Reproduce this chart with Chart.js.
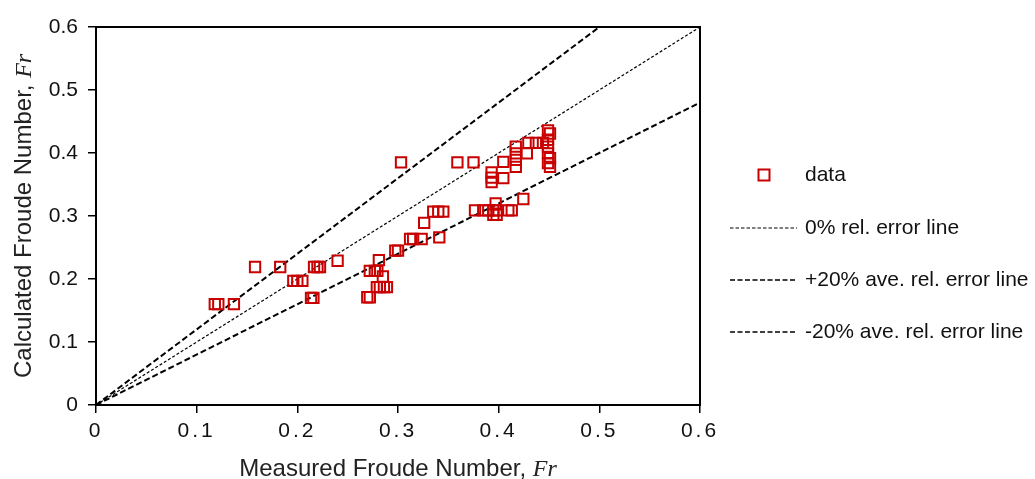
<!DOCTYPE html>
<html>
<head>
<meta charset="utf-8">
<script src="https://cdn.jsdelivr.net/npm/chart.js@4"></script>
<style>
  html, body { margin: 0; padding: 0; background: #fff; }
  #wrap { width: 1035px; height: 479px; }
</style>
</head>
<body>
<div id="wrap"><canvas id="c"></canvas></div>
<script>
// measured vs calculated Froude number
const measuredFr = [
  0.118, 0.1215, 0.137,
  0.158, 0.183,
  0.196, 0.200, 0.205,
  0.2136, 0.216,
  0.2166, 0.220, 0.2225,
  0.240,
  0.2695, 0.272,
  0.272, 0.277, 0.2795,
  0.281,
  0.285,
  0.279, 0.282, 0.286, 0.289,
  0.2973, 0.300,
  0.303,
  0.312, 0.315, 0.3235,
  0.326,
  0.335, 0.340, 0.345,
  0.341,
  0.359, 0.375,
  0.3765, 0.3847, 0.3897, 0.3947, 0.398, 0.4096, 0.413,
  0.397,
  0.3947, 0.398,
  0.4245,
  0.393, 0.393, 0.393,
  0.4046, 0.4046,
  0.417, 0.417, 0.417, 0.417,
  0.428,
  0.4295, 0.437, 0.444,
  0.449, 0.451, 0.449, 0.449, 0.449, 0.451, 0.449, 0.451
];
const calculatedFr = [
  0.160, 0.160, 0.160,
  0.219, 0.219,
  0.197, 0.197, 0.197,
  0.170, 0.170,
  0.219, 0.219, 0.219,
  0.229,
  0.171, 0.171,
  0.213, 0.213, 0.213,
  0.230,
  0.204,
  0.187, 0.187, 0.187, 0.187,
  0.245, 0.245,
  0.385,
  0.2635, 0.2635, 0.2635,
  0.289,
  0.307, 0.307, 0.307,
  0.266,
  0.385, 0.385,
  0.309, 0.309, 0.309, 0.309, 0.309, 0.309, 0.309,
  0.320,
  0.302, 0.302,
  0.327,
  0.369, 0.361, 0.354,
  0.386, 0.360,
  0.410, 0.3995, 0.389, 0.378,
  0.3995,
  0.416, 0.416, 0.416,
  0.436, 0.431, 0.421, 0.410, 0.3995, 0.392, 0.384, 0.378
];

// reference lines: y = x, y = 1.2x, y = 0.8x
const lineX = [0, 0.6];
const zeroErrY = [0, 0.6];
const plusErrY = [0, 0.72];
const minusErrY = [0, 0.48];

const xTickLabels = ['0', '0.1', '0.2', '0.3', '0.4', '0.5', '0.6'];
const yTickLabels = ['0', '0.1', '0.2', '0.3', '0.4', '0.5', '0.6'];

const seriesLabels = ['data', '0% rel. error line', '+20% ave. rel. error line', '-20% ave. rel. error line'];

const SANS = '"Liberation Sans", Arial, Helvetica, sans-serif';
const SERIF = '"Liberation Serif", "Times New Roman", serif';
const RED = '#c80000';

function toPoints(xs, ys) {
  return xs.map((x, i) => ({ x: x, y: ys[i] }));
}

function drawRich(ctx, parts, x, y, align) {
  let total = 0;
  parts.forEach(p => { ctx.font = p.font; p.w = ctx.measureText(p.text).width; total += p.w; });
  let cx = align === 'center' ? x - total / 2 : (align === 'right' ? x - total : x);
  parts.forEach(p => { ctx.font = p.font; ctx.fillText(p.text, cx, y); cx += p.w; });
}

const decorPlugin = {
  id: 'decor',
  beforeDraw(chart) {
    chart.ctx.letterSpacing = '0px';
  },
  beforeDatasetsDraw(chart) {
    // x tick labels are drawn after the datasets (ticks z: 1), spaced out like the original
    chart.ctx.letterSpacing = '3px';
  },
  afterDraw(chart) {
    const ctx = chart.ctx;
    const a = chart.chartArea;
    ctx.save();
    ctx.letterSpacing = '0px';

    // plot frame
    ctx.strokeStyle = '#000';
    ctx.lineWidth = 2;
    ctx.strokeRect(a.left, a.top, a.right - a.left, a.bottom - a.top);

    // axis titles
    ctx.fillStyle = '#222';
    ctx.textBaseline = 'alphabetic';
    drawRich(ctx, [
      { text: 'Measured Froude Number, ', font: '24px ' + SANS },
      { text: 'Fr', font: 'italic 24px ' + SERIF }
    ], (a.left + a.right) / 2, 476, 'center');

    ctx.save();
    ctx.translate(31, 378);
    ctx.rotate(-Math.PI / 2);
    drawRich(ctx, [
      { text: 'Calculated Froude Number, ', font: '24px ' + SANS },
      { text: 'Fr', font: 'italic 24px ' + SERIF }
    ], 0, 0, 'left');
    ctx.restore();

    // legend
    const ds = chart.data.datasets;
    const rowY = [175, 228, 280, 332];
    const x0 = a.right + 30, x1 = a.right + 97, tx = a.right + 105;
    ctx.font = '21px ' + SANS;
    ctx.textBaseline = 'middle';
    ctx.textAlign = 'left';
    ds.forEach((d, i) => {
      const y = rowY[i];
      if (i === 0) {
        ctx.strokeStyle = d.borderColor;
        ctx.lineWidth = 2;
        ctx.strokeRect(a.right + 58.5, y - 5.5, 11, 11);
      } else {
        ctx.strokeStyle = '#000';
        ctx.lineWidth = i === 1 ? 1 : 1.4;
        ctx.setLineDash(i === 1 ? [3.5, 2] : [5, 2.5]);
        ctx.beginPath();
        ctx.moveTo(x0, y);
        ctx.lineTo(x1, y);
        ctx.stroke();
        ctx.setLineDash([]);
      }
      ctx.fillStyle = '#111';
      ctx.fillText(d.label, tx, y);
    });
    ctx.restore();
  }
};

const ctx = document.getElementById('c');
const chart = new Chart(ctx, {
  type: 'scatter',
  data: {
    datasets: [
      {
        label: seriesLabels[0],
        data: toPoints(measuredFr, calculatedFr),
        pointStyle: 'rect',
        pointRadius: 7.3,
        pointBorderWidth: 2,
        borderColor: RED,
        backgroundColor: 'rgba(0,0,0,0)',
        order: 0
      },
      {
        label: seriesLabels[1],
        data: toPoints(lineX, zeroErrY),
        showLine: true,
        pointRadius: 0,
        borderColor: '#000',
        borderWidth: 1.2,
        borderDash: [3, 2],
        order: 1
      },
      {
        label: seriesLabels[2],
        data: toPoints(lineX, plusErrY),
        showLine: true,
        pointRadius: 0,
        borderColor: '#000',
        borderWidth: 2,
        borderDash: [6, 3],
        order: 2
      },
      {
        label: seriesLabels[3],
        data: toPoints(lineX, minusErrY),
        showLine: true,
        pointRadius: 0,
        borderColor: '#000',
        borderWidth: 2,
        borderDash: [6, 3],
        order: 3
      }
    ]
  },
  options: {
    responsive: true,
    maintainAspectRatio: false,
    animation: false,
    layout: { padding: { left: 0, top: 27, right: 335, bottom: 0 } },
    plugins: {
      legend: { display: false },
      tooltip: { enabled: false }
    },
    scales: {
      x: {
        type: 'linear',
        min: 0,
        max: 0.6,
        afterFit(scale) { scale.height = 74; },
        border: { display: true, color: '#000', width: 2 },
        grid: { drawOnChartArea: false, drawTicks: true, tickLength: 8, color: '#000', lineWidth: 1.5 },
        ticks: {
          stepSize: 0.1,
          autoSkip: false,
          maxRotation: 0,
          padding: 6,
          color: '#111',
          font: { family: SANS, size: 21 },
          z: 1,
          callback: (v, i) => xTickLabels[i]
        }
      },
      y: {
        type: 'linear',
        min: 0,
        max: 0.6,
        afterFit(scale) { scale.width = 96; },
        border: { display: true, color: '#000', width: 2 },
        grid: { drawOnChartArea: false, drawTicks: true, tickLength: 8, color: '#000', lineWidth: 1.5 },
        ticks: {
          stepSize: 0.1,
          autoSkip: false,
          padding: 10,
          color: '#111',
          font: { family: SANS, size: 21 },
          callback: (v, i) => yTickLabels[i]
        }
      }
    }
  },
  plugins: [decorPlugin]
});
</script>
</body>
</html>
